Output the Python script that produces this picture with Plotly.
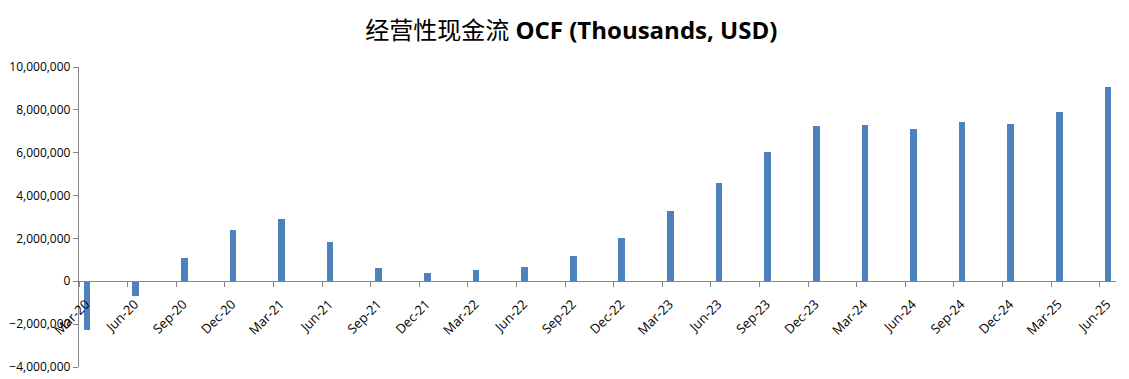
import plotly.graph_objects as go

quarters = ["Mar-20", "Jun-20", "Sep-20", "Dec-20", "Mar-21", "Jun-21", "Sep-21", "Dec-21",
            "Mar-22", "Jun-22", "Sep-22", "Dec-22", "Mar-23", "Jun-23", "Sep-23", "Dec-23",
            "Mar-24", "Jun-24", "Sep-24", "Dec-24", "Mar-25", "Jun-25"]
ocf = [-2270000, -690000, 1080000, 2390000, 2910000, 1830000, 610000, 375000,
       520000, 660000, 1170000, 2020000, 3280000, 4590000, 6050000, 7270000,
       7310000, 7130000, 7450000, 7360000, 7920000, 9050000]
y_ticks = [-4000000, -2000000, 0, 2000000, 4000000, 6000000, 8000000, 10000000]

# date-style axis: one slot per month, bars centred in the quarter-end month slot
month_start = [3 * i for i in range(len(quarters))]
bar_x = [m + 0.5 for m in month_start]

fig = go.Figure()
fig.add_trace(go.Bar(x=bar_x, y=ocf, width=0.41, marker=dict(color="#4F81BD", line=dict(width=0)),
                     showlegend=False))

axis_gray = "#868686"
fig.update_layout(
    width=1129, height=379,
    margin=dict(l=79, r=13, t=67, b=12, autoexpand=False),
    paper_bgcolor="white", plot_bgcolor="white",
    font=dict(family="Open Sans, Liberation Sans, sans-serif", size=12, color="#000000"),
    title=dict(
        text="<span style='font-family:Noto Sans CJK SC'>经营性现金流</span> <b>OCF (Thousands, USD)</b>",
        x=0.506, xanchor="center", y=0.92, yanchor="middle", automargin=False,
        font=dict(size=24, color="#000000", family="Open Sans, Noto Sans CJK SC, sans-serif"),
    ),
    bargap=0,
)
fig.update_xaxes(
    range=[0, 64], tickmode="array", tickvals=month_start, ticktext=quarters,
    tickangle=-45, showline=True, linecolor=axis_gray, linewidth=1.3,
    ticks="outside", ticklen=5, tickcolor=axis_gray, showgrid=False, zeroline=False,
    anchor="free", position=4 / 14, tickfont=dict(size=13), automargin=False,
    ticklabelshift=7, ticklabelstandoff=4,
)
fig.update_yaxes(
    range=[-4000000, 10000000], tickmode="array", tickvals=y_ticks, tickformat=",",
    showline=True, linecolor=axis_gray, linewidth=1.3, ticks="outside", ticklen=5,
    tickcolor=axis_gray, showgrid=False, zeroline=False, tickfont=dict(size=12), automargin=False,
)

fig.write_html("out.html", config={"displayModeBar": False},
               post_script="document.body.style.margin='0px';document.body.style.overflow='hidden';")
